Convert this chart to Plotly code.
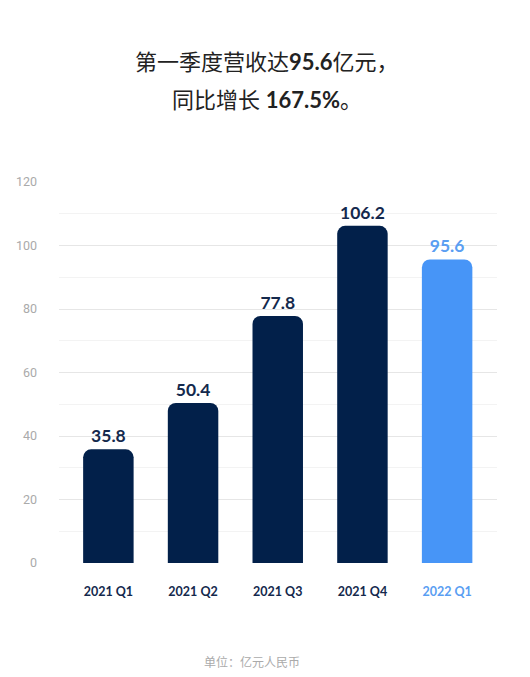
import plotly.graph_objects as go

# data
quarters = ["2021 Q1", "2021 Q2", "2021 Q3", "2021 Q4", "2022 Q1"]
revenue = [35.8, 50.4, 77.8, 106.2, 95.6]
y_ticks = [0, 20, 40, 60, 80, 100, 120]

navy = "#02204a"
blue = "#4795f7"
bar_colors = [navy, navy, navy, navy, blue]
label_colors = ["#14294d", "#14294d", "#14294d", "#14294d", "#5a9ef2"]

font_main = "Lato, 'Noto Sans CJK SC', sans-serif"

# page body has an 8px margin, so the figure is drawn 8px smaller/shifted
W, H = 522, 669
L, R, T, B = 51, 33, 174, 114
plot_w = W - L - R
plot_h = H - T - B


def px_x(x):
    # page pixel -> paper x
    return (x - 8 - L) / plot_w


def px_y(y):
    # page pixel -> paper y
    return (H - B - (y - 8)) / plot_h


fig = go.Figure()
fig.add_trace(go.Bar(
    x=quarters,
    y=revenue,
    width=0.596,
    marker=dict(color=bar_colors, cornerradius=8, line=dict(width=0)),
    text=[f"<b>{v}</b>" for v in revenue],
    textposition="outside",
    textfont=dict(size=17.5, color=label_colors, family=font_main),
    cliponaxis=False,
    hoverinfo="skip",
))

tick_text = [f"<b><span style='color:{c}'>{q}</span></b>"
             for q, c in zip(quarters, label_colors)]

fig.update_layout(
    width=W, height=H,
    margin=dict(l=L, r=R, t=T, b=B),
    plot_bgcolor="white", paper_bgcolor="white",
    showlegend=False,
    font=dict(family=font_main),
    xaxis=dict(
        range=[-0.583, 4.589],
        tickmode="array", tickvals=quarters, ticktext=tick_text,
        tickfont=dict(size=12.5, family=font_main),
        ticks="", showline=False, showgrid=False,
        ticklabelstandoff=19, automargin=False,
    ),
    yaxis=dict(
        range=[0, 120],
        tickmode="array", tickvals=y_ticks,
        tickfont=dict(size=12.5, color="#aaaaaa", family="Roboto, sans-serif"),
        showgrid=True, gridcolor="#e6e6e6", gridwidth=1,
        zeroline=False, showline=False, ticks="",
        ticklabelstandoff=21, automargin=False,
        minor=dict(dtick=10, showgrid=True, gridcolor="#f3f3f3", gridwidth=1),
    ),
    annotations=[
        dict(text="第一季度营收达<b>95.6</b>亿元，", x=px_x(267), y=px_y(61),
             font=dict(size=22, color="#222222", family=font_main)),
        dict(text="同比增长 <b>167.5%</b>。", x=px_x(267), y=px_y(99),
             font=dict(size=22, color="#222222", family=font_main)),
        dict(text="单位：亿元人民币", x=px_x(252), y=px_y(662),
             font=dict(size=12, color="#aaaaaa", family=font_main)),
    ],
)

fig.update_annotations(xref="paper", yref="paper", showarrow=False,
                       xanchor="center", yanchor="middle")

fig.write_html("out.html")
